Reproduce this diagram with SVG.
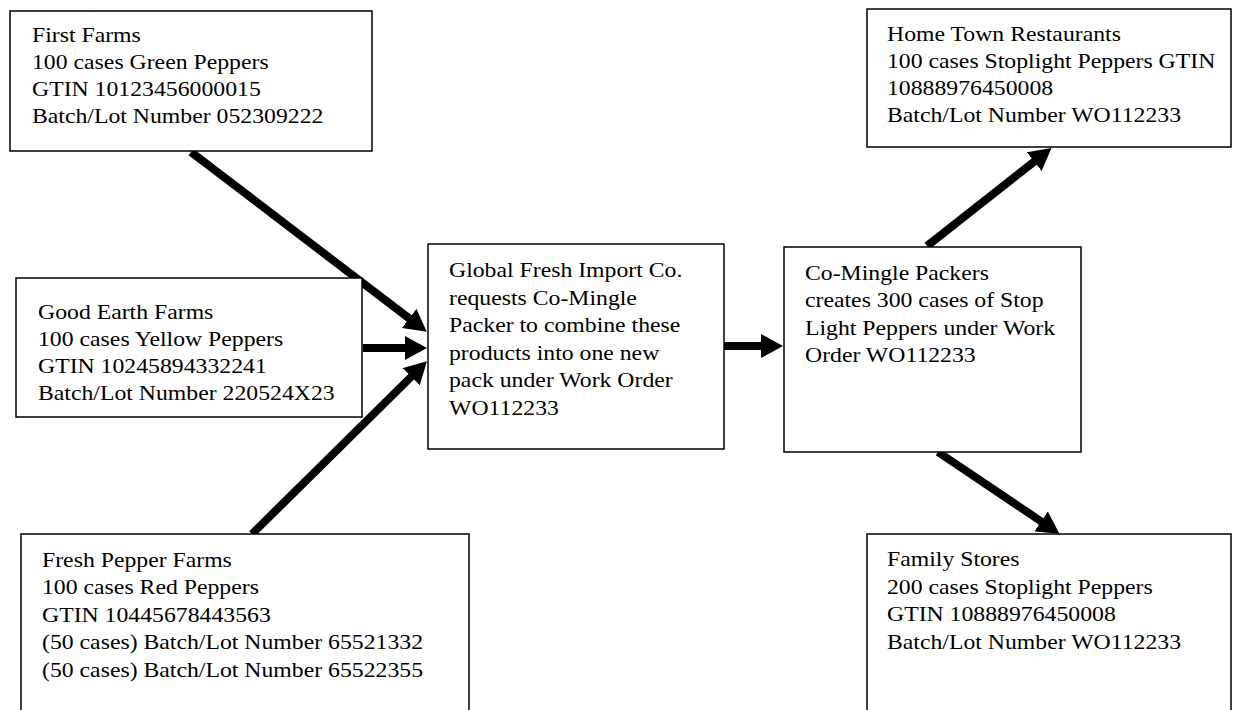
<svg xmlns="http://www.w3.org/2000/svg" width="1233" height="710" viewBox="0 0 1233 710">
  <style>
    .box { fill: #ffffff; stroke: #000000; stroke-width: 1.5; }
    .t { font-family: "Liberation Serif", "Times New Roman", serif; font-size: 21.2px; fill: #000000; }
    .c { stroke: #000000; stroke-width: 8; fill: none; marker-end: url(#ah); }
  </style>
  <defs>
    <marker id="ah" markerUnits="userSpaceOnUse" markerWidth="22" markerHeight="24" viewBox="0 0 22 24" refX="1" refY="12" orient="auto">
      <path d="M0,0 L22,12 L0,24 z" fill="#000000"/>
    </marker>
  </defs>
  <rect width="1233" height="710" fill="#ffffff"/>

  <g id="connectors">
    <line class="c" x1="191" y1="152" x2="410" y2="319"/>
    <line class="c" x1="363" y1="348" x2="406" y2="348"/>
    <line class="c" x1="252" y1="534" x2="412" y2="376"/>
    <line class="c" x1="724" y1="346" x2="762" y2="346"/>
    <line class="c" x1="927" y1="246" x2="1035" y2="161"/>
    <line class="c" x1="938" y1="452" x2="1042" y2="522"/>
  </g>

  <g id="first-farms">
    <rect class="box" x="10" y="11" width="362" height="140"/>
    <text class="t" transform="translate(32,0) scale(1.12,1)">
      <tspan x="0" y="42.5">First Farms</tspan>
      <tspan x="0" y="69.5">100 cases Green Peppers</tspan>
      <tspan x="0" y="96.5">GTIN 10123456000015</tspan>
      <tspan x="0" y="123.5">Batch/Lot Number 052309222</tspan>
    </text>
  </g>

  <g id="good-earth-farms">
    <rect class="box" x="16" y="278" width="346" height="139"/>
    <text class="t" transform="translate(38,0) scale(1.12,1)">
      <tspan x="0" y="319">Good Earth Farms</tspan>
      <tspan x="0" y="346">100 cases Yellow Peppers</tspan>
      <tspan x="0" y="373">GTIN 10245894332241</tspan>
      <tspan x="0" y="400">Batch/Lot Number 220524X23</tspan>
    </text>
  </g>

  <g id="fresh-pepper-farms">
    <rect class="box" x="21" y="534" width="448" height="190"/>
    <text class="t" transform="translate(42,0) scale(1.12,1)">
      <tspan x="0" y="567">Fresh Pepper Farms</tspan>
      <tspan x="0" y="594.5">100 cases Red Peppers</tspan>
      <tspan x="0" y="622">GTIN 10445678443563</tspan>
      <tspan x="0" y="649.5">(50 cases) Batch/Lot Number 65521332</tspan>
      <tspan x="0" y="677">(50 cases) Batch/Lot Number 65522355</tspan>
    </text>
  </g>

  <g id="global-fresh">
    <rect class="box" x="428" y="244" width="296" height="205"/>
    <text class="t" transform="translate(449,0) scale(1.12,1)">
      <tspan x="0" y="277.5">Global Fresh Import Co.</tspan>
      <tspan x="0" y="305">requests Co-Mingle</tspan>
      <tspan x="0" y="332.5">Packer to combine these</tspan>
      <tspan x="0" y="360">products into one new</tspan>
      <tspan x="0" y="387.5">pack under Work Order</tspan>
      <tspan x="0" y="415">WO112233</tspan>
    </text>
  </g>

  <g id="co-mingle-packers">
    <rect class="box" x="784" y="247" width="297" height="205"/>
    <text class="t" transform="translate(805,0) scale(1.12,1)">
      <tspan x="0" y="280">Co-Mingle Packers</tspan>
      <tspan x="0" y="307.5">creates 300 cases of Stop</tspan>
      <tspan x="0" y="335">Light Peppers under Work</tspan>
      <tspan x="0" y="362.5">Order WO112233</tspan>
    </text>
  </g>

  <g id="home-town-restaurants">
    <rect class="box" x="867" y="9" width="364" height="138"/>
    <text class="t" transform="translate(887,0) scale(1.12,1)">
      <tspan x="0" y="41.5">Home Town Restaurants</tspan>
      <tspan x="0" y="68.5">100 cases Stoplight Peppers GTIN</tspan>
      <tspan x="0" y="95.5">10888976450008</tspan>
      <tspan x="0" y="122.5">Batch/Lot Number WO112233</tspan>
    </text>
  </g>

  <g id="family-stores">
    <rect class="box" x="867" y="534" width="364" height="190"/>
    <text class="t" transform="translate(887,0) scale(1.12,1)">
      <tspan x="0" y="566.5">Family Stores</tspan>
      <tspan x="0" y="594">200 cases Stoplight Peppers</tspan>
      <tspan x="0" y="621.5">GTIN 10888976450008</tspan>
      <tspan x="0" y="649">Batch/Lot Number WO112233</tspan>
    </text>
  </g>
</svg>
